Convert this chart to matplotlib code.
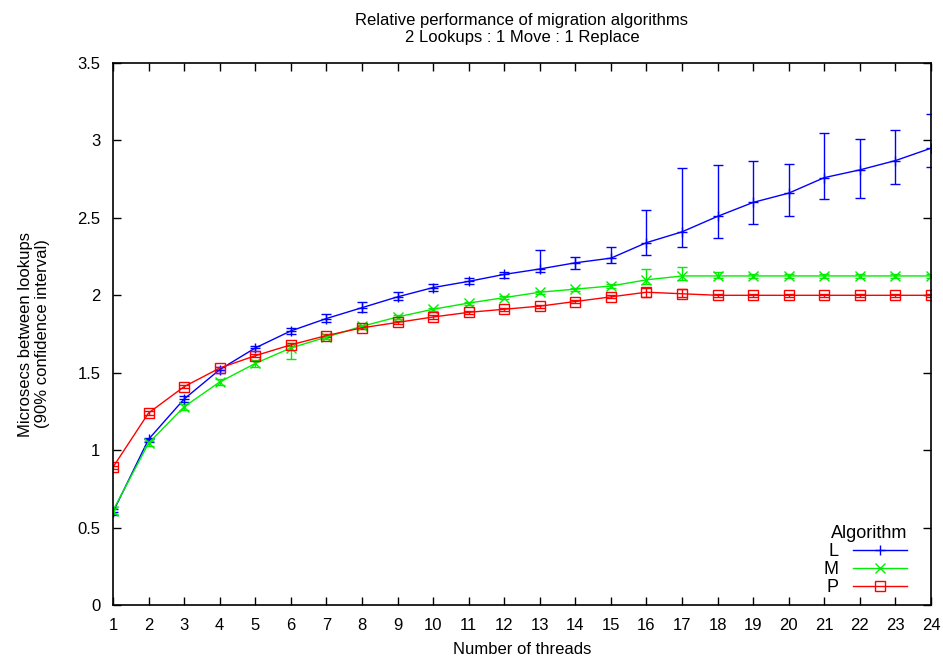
import matplotlib
matplotlib.use("Agg")
import matplotlib.pyplot as plt
import numpy as np

plt.rcParams["font.family"] = ["Liberation Sans", "DejaVu Sans"]

threads = list(range(1, 25))

# L algorithm: mean and 90% confidence bounds
l_mean = [0.60, 1.07, 1.33, 1.52, 1.66, 1.77, 1.85, 1.92, 1.99, 2.05, 2.09, 2.135,
          2.17, 2.21, 2.24, 2.34, 2.41, 2.51, 2.60, 2.66, 2.76, 2.81, 2.87, 2.95]
l_low = [0.58, 1.05, 1.31, 1.50, 1.64, 1.75, 1.83, 1.89, 1.97, 2.03, 2.07, 2.11,
         2.15, 2.17, 2.21, 2.26, 2.31, 2.37, 2.46, 2.51, 2.62, 2.63, 2.72, 2.83]
l_high = [0.62, 1.08, 1.35, 1.54, 1.67, 1.79, 1.88, 1.96, 2.02, 2.07, 2.11, 2.15,
          2.29, 2.25, 2.31, 2.55, 2.82, 2.84, 2.87, 2.85, 3.05, 3.01, 3.07, 3.17]

# M algorithm
m_mean = [0.61, 1.045, 1.28, 1.44, 1.56, 1.66, 1.73, 1.80, 1.86, 1.91, 1.95, 1.985,
          2.02, 2.04, 2.06, 2.10, 2.125, 2.125, 2.125, 2.125, 2.125, 2.125, 2.125, 2.125]
m_low = [0.59, 1.03, 1.26, 1.42, 1.54, 1.59, 1.72, 1.79, 1.85, 1.90, 1.94, 1.975,
         2.01, 2.03, 2.05, 2.07, 2.10, 2.11, 2.115, 2.115, 2.115, 2.115, 2.115, 2.115]
m_high = [0.63, 1.06, 1.30, 1.46, 1.58, 1.69, 1.74, 1.81, 1.87, 1.92, 1.96, 1.995,
          2.03, 2.05, 2.07, 2.17, 2.18, 2.15, 2.135, 2.135, 2.135, 2.135, 2.135, 2.135]

# P algorithm
p_mean = [0.89, 1.24, 1.41, 1.53, 1.61, 1.68, 1.74, 1.79, 1.825, 1.86, 1.89, 1.91,
          1.93, 1.96, 1.99, 2.02, 2.01, 2.00, 2.00, 2.00, 2.00, 2.00, 2.00, 2.00]
p_low = [0.88, 1.23, 1.40, 1.52, 1.60, 1.67, 1.73, 1.78, 1.815, 1.85, 1.88, 1.90,
         1.92, 1.95, 1.98, 1.99, 1.99, 1.99, 1.99, 1.99, 1.99, 1.99, 1.99, 1.99]
p_high = [0.90, 1.25, 1.42, 1.54, 1.62, 1.69, 1.75, 1.80, 1.835, 1.87, 1.90, 1.92,
          1.94, 1.97, 2.00, 2.05, 2.04, 2.01, 2.01, 2.01, 2.01, 2.01, 2.01, 2.01]

series = [
    ("L", l_mean, l_low, l_high, "#0000ff", "+"),
    ("M", m_mean, m_low, m_high, "#00ee00", "x"),
    ("P", p_mean, p_low, p_high, "#ff0000", "s"),
]

fig = plt.figure(figsize=(9.43, 6.6), dpi=100)
ax = fig.add_axes([0.1198, 0.0833, 0.8675, 0.8212])

for name, mean, low, high, color, marker in series:
    mean = np.array(mean)
    yerr = np.vstack([mean - np.array(low), np.array(high) - mean])
    ax.errorbar(threads, mean, yerr=yerr, color=color, linewidth=1.0,
                elinewidth=1.0, capsize=3.5, capthick=1.0, marker=marker,
                markersize=6.5,
                markerfacecolor="none", markeredgecolor=color, markeredgewidth=1.0,
                label=name)

ax.set_xlim(1, 24)
ax.set_ylim(0, 3.5)
ax.set_xticks(threads)
ax.set_yticks(np.arange(0, 3.51, 0.5))
ax.set_yticklabels(["0", "0.5", "1", "1.5", "2", "2.5", "3", "3.5"])
ax.tick_params(direction="in", top=True, right=True, labelsize=12, length=6, width=1)
ax.tick_params(axis="x", pad=9)
ax.tick_params(axis="y", pad=9)
for spine in ax.spines.values():
    spine.set_linewidth(1.2)

ax.set_xlabel("Number of threads", fontsize=12, labelpad=7)
ax.set_ylabel("Microsecs between lookups\n(90% confidence interval)", fontsize=12,
              labelpad=20, linespacing=1.1)
ax.set_title("Relative performance of migration algorithms\n2 Lookups : 1 Move : 1 Replace",
             fontsize=12, linespacing=1.15, pad=15)

handles, labels = ax.get_legend_handles_labels()
handles = [h[0] for h in handles]
leg = ax.legend(handles, labels, title="Algorithm", loc="lower right",
                bbox_to_anchor=(0.982, 0.0), frameon=False,
                markerfirst=False, fontsize=13, title_fontsize=13, handlelength=3.0,
                handletextpad=0.8, labelspacing=0.05, borderaxespad=0.3,
                borderpad=0.2)
leg._legend_box.align = "right"

fig.savefig("out.png", dpi=100)
